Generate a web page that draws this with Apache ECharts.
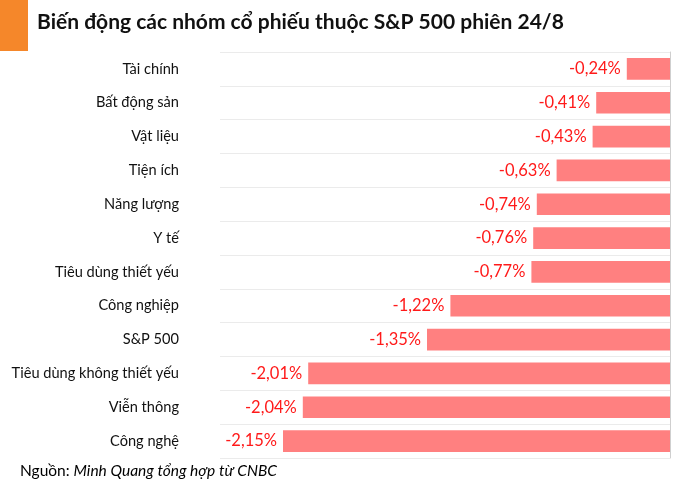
<!DOCTYPE html>
<html><head><meta charset="utf-8">
<script src="https://cdn.jsdelivr.net/npm/echarts@6/dist/echarts.min.js"></script>
<style>html,body{margin:0;padding:0;background:#fff}#c{width:700px;height:489px}</style>
</head><body><div id="c"></div>
<script>
const categories = ['Tài chính','Bất động sản','Vật liệu','Tiện ích','Năng lượng','Y tế','Tiêu dùng thiết yếu','Công nghiệp','S&P 500','Tiêu dùng không thiết yếu','Viễn thông','Công nghệ'];
const values = [-0.24,-0.41,-0.43,-0.63,-0.74,-0.76,-0.77,-1.22,-1.35,-2.01,-2.04,-2.15];
const titleText = 'Biến động các nhóm cổ phiếu thuộc S&P 500 phiên 24/8';
const sourceLabel = 'Nguồn: ';
const sourceText = 'Minh Quang tổng hợp từ CNBC';

const chart = echarts.init(document.getElementById('c'), null, {renderer:'canvas'});
chart.setOption({
  animation:false,
  textStyle:{fontFamily:'Lato'},
  grid:{left:220,right:30,top:52,bottom:31},
  xAxis:{type:'value',min:-2.5,max:0,show:false,splitLine:{show:false}},
  yAxis:[{
    type:'category',data:categories,inverse:true,
    axisLine:{show:false},axisTick:{show:false},
    axisLabel:{margin:41,color:'#111',fontSize:14.6,fontFamily:'Lato'},
    splitLine:{show:true,lineStyle:{color:'#ebebeb',width:1}}
  },{
    type:'category',data:categories,inverse:true,position:'right',
    axisLine:{show:true,onZero:false,lineStyle:{color:'#cfcfcf',width:1}},
    axisTick:{show:false},axisLabel:{show:false},splitLine:{show:false}
  }],
  series:[{
    type:'bar',data:values,barCategoryGap:'36%',
    itemStyle:{color:'#ff8080'},
    label:{show:true,position:'left',distance:6,color:'#ff1a1a',fontSize:16.5,fontFamily:'Lato',
      formatter:p=>p.value.toFixed(2).replace('.',',')+'%'}
  }],
  graphic:[
    {type:'rect',left:0,top:0,shape:{width:28,height:51},style:{fill:'#f5872a'}},
    {type:'text',left:37,top:12,style:{text:titleText,fontFamily:'Lato',fontWeight:'bold',fontSize:21,fill:'#111'}},
    {type:'text',left:20,top:463,style:{
      text:'{a|'+sourceLabel+'}{b|'+sourceText+'}',
      rich:{a:{fontFamily:'Lato',fontSize:15.5,color:'#111'},b:{fontFamily:'Lato',fontStyle:'italic',fontSize:15.5,color:'#111'}}
    }}
  ]
});
</script></body></html>
